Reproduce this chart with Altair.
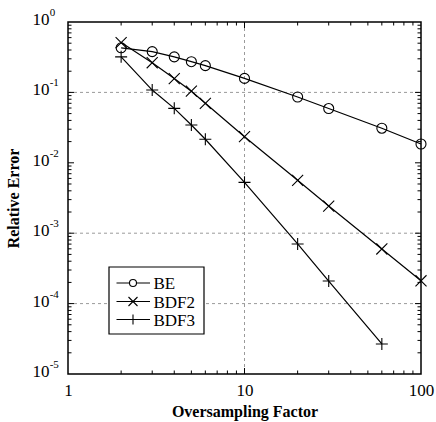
import altair as alt
import pandas as pd

# Oversampling factors and relative errors for each integrator
factors = [2, 3, 4, 5, 6, 10, 20, 30, 60, 100]
err_be = [0.43, 0.38, 0.32, 0.273, 0.24, 0.158, 0.086, 0.059, 0.031, 0.0185]
err_bdf2 = [0.51, 0.264, 0.157, 0.104, 0.070, 0.0235, 0.00564, 0.00243, 0.000597, 0.000211]
err_bdf3 = [0.32, 0.108, 0.0594, 0.0344, 0.0216, 0.00528, 0.000703, 0.000209, 0.0000267]

methods = ["BE", "BDF2", "BDF3"]
y_exponents = [0, -1, -2, -3, -4, -5]
x_tick_labels = [1, 10, 100]

rows = []
for name, vals in zip(methods, [err_be, err_bdf2, err_bdf3]):
    for f, v in zip(factors, vals):
        rows.append({"method": name, "factor": f, "error": v})
df = pd.DataFrame(rows)

W, H = 353, 352
FONT = "Liberation Serif"

xs = alt.Scale(type="log", domain=[1, 100], nice=False)
ys = alt.Scale(type="log", domain=[1e-5, 1], nice=False)

CIRCLE = "circle"
XMARK = "M-1,-1L1,1M-1,1L1,-1"
PLUS = "M-1,0L1,0M0,-1L0,1"
shape_scale = alt.Scale(domain=methods, range=[CIRCLE, XMARK, PLUS])
size_scale = alt.Scale(domain=methods, range=[100, 144, 150])

base = alt.Chart(df)

lines = base.mark_line(color="black", strokeWidth=1.2).encode(
    x=alt.X("factor:Q", scale=xs,
            axis=alt.Axis(values=x_tick_labels, labelExpr="format(datum.value, 'd')",
                          ticks=False, domain=False, grid=False,
                          labelFont=FONT, labelFontSize=17, labelColor="black",
                          labelPadding=8, labelFlush=False,
                          title="Oversampling Factor", titleFont=FONT,
                          titleFontSize=16, titleFontWeight="bold", titleColor="black",
                          titleX=W / 2, titleY=42, titleBaseline="alphabetic")),
    y=alt.Y("error:Q", scale=ys,
            axis=alt.Axis(labels=False, ticks=False, domain=False, grid=False,
                          title="Relative Error", titleFont=FONT, titleFontSize=16,
                          titleFontWeight="bold", titleColor="black",
                          titleX=-55, titleY=H / 2, titleAngle=270,
                          titleAlign="center", titleBaseline="middle")),
    detail="method:N",
)

points = base.mark_point(color="black", strokeWidth=1.1, filled=False, opacity=1).encode(
    x=alt.X("factor:Q", scale=xs),
    y=alt.Y("error:Q", scale=ys),
    shape=alt.Shape("method:N", scale=shape_scale, legend=None),
    size=alt.Size("method:N", scale=size_scale, legend=None),
)

# dashed grid at selected decades
grid_style = dict(color="#9a9a9a", strokeWidth=1, strokeDash=[3, 3])
ygrid = alt.Chart(pd.DataFrame({"v": [1e-1, 1e-3, 1e-4]})).mark_rule(**grid_style).encode(
    y=alt.Y("v:Q", scale=ys), x=alt.value(0), x2=alt.value(W))
xgrid = alt.Chart(pd.DataFrame({"v": [10]})).mark_rule(**grid_style).encode(
    x=alt.X("v:Q", scale=xs), y=alt.value(0), y2=alt.value(H))

# inward ticks on all four sides
x_minor = [k * d for d in (1, 10) for k in range(2, 10)]
x_major = [10]
y_minor = [k * 10.0 ** e for e in range(-5, 0) for k in range(2, 10)]
y_major = [1e-4, 1e-3, 1e-2, 1e-1]
MAJ, MIN = 6, 3.5
tick_layers = []
for vals, ln in ((x_minor, MIN), (x_major, MAJ)):
    d = pd.DataFrame({"v": vals})
    for y0, y1 in ((H, H - ln), (0, ln)):
        tick_layers.append(alt.Chart(d).mark_rule(color="black", strokeWidth=1).encode(
            x=alt.X("v:Q", scale=xs), y=alt.value(y0), y2=alt.value(y1)))
for vals, ln in ((y_minor, MIN), (y_major, MAJ)):
    d = pd.DataFrame({"v": vals})
    for x0, x1 in ((0, ln), (W, W - ln)):
        tick_layers.append(alt.Chart(d).mark_rule(color="black", strokeWidth=1).encode(
            y=alt.Y("v:Q", scale=ys), x=alt.value(x0), x2=alt.value(x1)))

# y tick labels as 10 with a raised exponent
ylab = pd.DataFrame({"v": [10.0 ** e for e in y_exponents],
                     "exp": [str(e) for e in y_exponents]})
ybase = alt.Chart(ylab).mark_text(font=FONT, fontSize=17, align="right",
                                  baseline="middle", dy=-2, color="black").encode(
    y=alt.Y("v:Q", scale=ys), x=alt.value(-18.5), text=alt.value("10"))
yexp = alt.Chart(ylab).mark_text(font=FONT, fontSize=11, align="left",
                                 baseline="middle", dy=-9, color="black").encode(
    y=alt.Y("v:Q", scale=ys), x=alt.value(-18.3), text="exp:N")

# legend box
one = pd.DataFrame({"a": [0]})
leg_layers = [alt.Chart(one).mark_rect(fill="white", stroke="black", strokeWidth=1.2).encode(
    x=alt.value(41), x2=alt.value(136), y=alt.value(245), y2=alt.value(312))]
leg_rows = [261, 279.5, 297.5]
leg_sizes = [49, 81, 100]
for name, shp, sz, yy in zip(methods, [CIRCLE, XMARK, PLUS], leg_sizes, leg_rows):
    leg_layers.append(alt.Chart(one).mark_rule(color="black", strokeWidth=1.2).encode(
        x=alt.value(48.5), x2=alt.value(82), y=alt.value(yy)))
    leg_layers.append(alt.Chart(one).mark_point(shape=shp, size=sz, color="black",
                                                filled=False, fill="white", strokeWidth=1.1,
                                                opacity=1).encode(
        x=alt.value(65), y=alt.value(yy)))
    leg_layers.append(alt.Chart(one).mark_text(font=FONT, fontSize=17, align="left",
                                               baseline="middle", color="black").encode(
        x=alt.value(85.5), y=alt.value(yy + 1), text=alt.value(name)))

chart = alt.layer(
    ygrid, xgrid, *tick_layers, lines, points, ybase, yexp, *leg_layers
).properties(
    width=W, height=H,
    autosize=alt.AutoSizeParams(type="none"),
    padding={"left": 68, "top": 22, "right": 15, "bottom": 48},
    background="white",
).configure_view(stroke="black", strokeWidth=1.5)

chart.save("out.html", embed_options={"renderer": "svg", "actions": False})
